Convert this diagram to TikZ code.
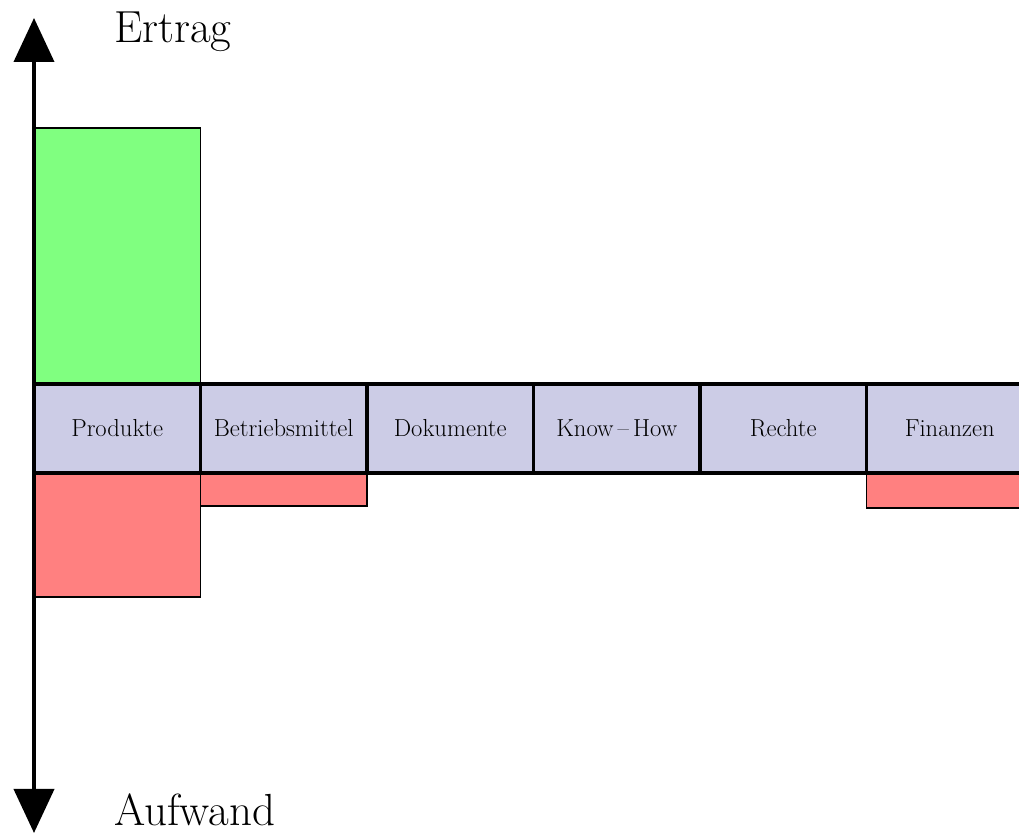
\documentclass[tikz,border=0pt]{standalone}
\usetikzlibrary{positioning,arrows.meta,backgrounds}
\definecolor{bandblue}{RGB}{204,204,230}

\begin{document}
\begin{tikzpicture}[
node distance=0pt,
cellnode/.style={rectangle, draw=black, line width=2.5pt, fill=bandblue, minimum width=4.1625cm, minimum height=2.225cm, inner sep=0pt, outer sep=0pt, font=\fontsize{17.5}{21}\selectfont},
ertragbar/.style={draw=black, line width=1.3pt, fill=green!50},
aufwandbar/.style={draw=black, line width=1.3pt, fill=red!50},
axisline/.style={line width=2.8pt, {Triangle[length=1.1cm,width=1cm]}-{Triangle[length=1.1cm,width=1cm]}},
axislabel/.style={font=\fontsize{32}{38}\selectfont, anchor=base west, inner sep=0pt},
]
\useasboundingbox (-0.85,-11.25) rectangle (24.625,9.6);
\clip (-0.85,-11.25) rectangle (24.625,9.6);

% Nodes
\node[cellnode, anchor=north west] (produkte) at (0,0) {Produkte};
\node[cellnode] (betrieb) [right=of produkte] {Betriebsmittel};
\node[cellnode] (dokumente) [right=of betrieb] {Dokumente};
\node[cellnode] (knowhow) [right=of dokumente] {Know\,--\,How};
\node[cellnode] (rechte) [right=of knowhow] {Rechte};
\node[cellnode] (finanzen) [right=of rechte] {Finanzen};

% Bars
\begin{scope}[on background layer]
\draw[ertragbar] (produkte.north west) rectangle ++(4.1625,6.4);
\draw[aufwandbar] (produkte.south west) rectangle ++(4.1625,-3.1);
\draw[aufwandbar] (betrieb.south west) rectangle ++(4.1625,-0.825);
\draw[aufwandbar] (finanzen.south west) rectangle ++(4.1625,-0.875);
\end{scope}

% Axis
\coordinate (top) at (0,9.15);
\coordinate (bottom) at (0,-11.225);
\draw[axisline] (bottom) -- (top);
\node[axislabel] (ertrag) at (2.0,8.525) {Ertrag};
\node[axislabel] (aufwand) at (2.0,-11.05) {Aufwand};

\end{tikzpicture}
\end{document}
